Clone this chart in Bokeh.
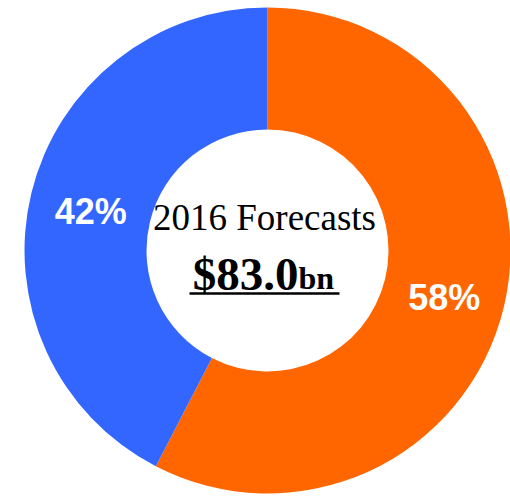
import math
from bokeh.plotting import figure
from bokeh.models import Range1d, ColumnDataSource
from bokeh.core.properties import value
from bokeh.embed import file_html
from bokeh.resources import INLINE

# Data
categories = ["Segment A", "Segment B"]
shares = [57.6, 42.4]
colors = ["#FF6600", "#3366FF"]
center_title = "2016 Forecasts"
center_value = "$83.0"
center_unit = "bn"

R_OUT, R_IN = 243, 121

p = figure(width=510, height=496, output_backend="svg", toolbar_location=None,
           x_range=Range1d(-267, 243), y_range=Range1d(-246, 250),
           min_border=0)
p.axis.visible = False
p.grid.visible = False
p.outline_line_color = None
p.background_fill_color = "white"
p.border_fill_color = "white"

total = sum(shares)
starts, ends, lx, ly, labels = [], [], [], [], []
acc = 0.0
for s in shares:
    a0 = math.pi / 2 - 2 * math.pi * acc / total
    a1 = math.pi / 2 - 2 * math.pi * (acc + s) / total
    starts.append(a0)
    ends.append(a1)
    mid = (a0 + a1) / 2
    rm = (R_OUT + R_IN) / 2
    lx.append(rm * math.cos(mid))
    ly.append(rm * math.sin(mid))
    labels.append(f"{round(100 * s / total)}%")
    acc += s

src = ColumnDataSource(dict(start=starts, end=ends, color=colors, lx=lx, ly=ly, label=labels))
p.annular_wedge(x=0, y=0, inner_radius=R_IN, outer_radius=R_OUT,
                start_angle="start", end_angle="end", direction="clock",
                fill_color="color", line_color=None, source=src)

p.text(x="lx", y="ly", text="label", source=src, text_color="white",
       text_font=value("Liberation Sans"), text_font_style="bold",
       text_font_size="36px", text_align="center", text_baseline="middle",
       y_offset=4)

p.text(x=[-3], y=[33], text=[center_title], text_color="black",
       text_font=value("Liberation Serif"), text_font_size="37px",
       text_align="center", text_baseline="alphabetic")
p.text(x=[31], y=[-23], text=[center_value], text_color="black",
       text_font=value("Liberation Serif"), text_font_style="bold",
       text_font_size="47px", text_align="right", text_baseline="alphabetic")
p.text(x=[31], y=[-27], text=[center_unit], text_color="black",
       text_font=value("Liberation Serif"), text_font_style="bold",
       text_font_size="32px", text_align="left", text_baseline="alphabetic")
p.segment(x0=[-78], y0=[-43], x1=[72], y1=[-43], line_color="black", line_width=2.5)

open("out.html", "w").write(file_html(p, INLINE))
